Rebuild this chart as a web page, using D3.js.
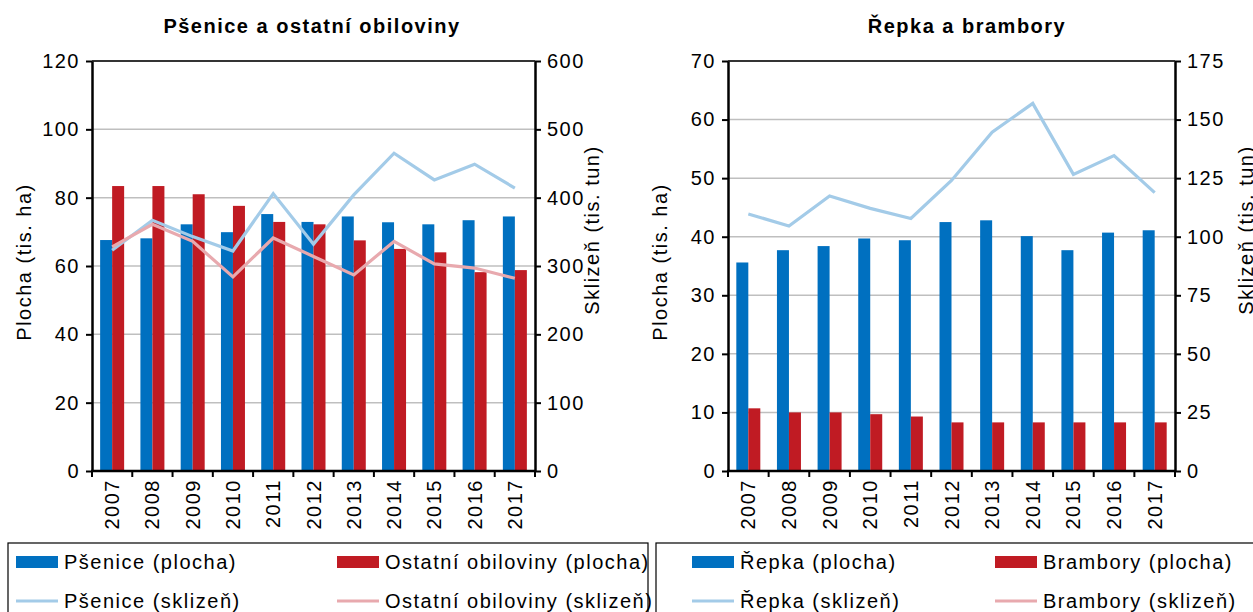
<!DOCTYPE html>
<html lang="cs">
<head>
  <meta charset="UTF-8">
  <title>Plochy a sklizně</title>
  <style>
    body { margin: 0; background: #fff; }
    text { font-family: "Liberation Sans", Arial, sans-serif; fill: #000; letter-spacing: 1.5px; }
    .grid line { stroke: #bfbfbf; stroke-width: 1.5px; }
    .axis path, .axis line { stroke: #000; }
  </style>
</head>
<body>
  <div id="chart"></div>
  <script src="https://cdn.jsdelivr.net/npm/d3@7"></script>
  <script>
    const years = ["2007","2008","2009","2010","2011","2012","2013","2014","2015","2016","2017"];

    // Pšenice a ostatní obiloviny
    const psenicePlocha = [67.6, 68.1, 72.2, 69.9, 75.2, 72.9, 74.5, 72.8, 72.2, 73.4, 74.5];
    const ostatniPlocha = [83.4, 83.4, 81.0, 77.6, 72.9, 72.2, 67.5, 65.0, 64.0, 58.2, 58.8];
    const pseniceSklizen = [323, 367, 343, 322, 406, 332, 404, 465, 426, 449, 414];
    const ostatniSklizen = [328, 361, 336, 284, 341, 314, 287, 336, 303, 297, 282];

    // Řepka a brambory
    const repkaPlocha = [35.6, 37.7, 38.4, 39.7, 39.4, 42.5, 42.8, 40.1, 37.7, 40.7, 41.1];
    const bramboryPlocha = [10.7, 10.0, 10.0, 9.7, 9.3, 8.3, 8.3, 8.3, 8.3, 8.3, 8.3];
    const repkaSklizen = [109.7, 104.6, 117.4, 112.1, 107.8, 124.0, 144.6, 156.9, 126.6, 134.6, 118.8];

    const leftTicks1 = [0, 20, 40, 60, 80, 100, 120];
    const rightTicks1 = [0, 100, 200, 300, 400, 500, 600];
    const leftTicks2 = [0, 10, 20, 30, 40, 50, 60, 70];
    const rightTicks2 = [0, 25, 50, 75, 100, 125, 150, 175];

    const cBlue = "#0070c0", cRed = "#c01b23", cLBlue = "#a3cbe8", cPink = "#e8a9ae";
    const fs = "20px";

    const svg = d3.select("#chart").append("svg")
      .attr("width", 1253)
      .attr("height", 612);

    function drawPanel(cfg) {
      const top = 61, bottom = 471;
      const x = d3.scaleBand().domain(years).range([cfg.x0, cfg.x1]);
      const yL = d3.scaleLinear().domain([0, d3.max(cfg.leftTicks)]).range([bottom, top]);
      const yR = d3.scaleLinear().domain([0, d3.max(cfg.rightTicks)]).range([bottom, top]);
      const g = svg.append("g");

      // gridlines
      g.append("g").attr("class", "grid")
        .selectAll("line")
        .data(cfg.leftTicks.filter(t => t > 0))
        .enter().append("line")
        .attr("x1", cfg.x0).attr("x2", cfg.x1)
        .attr("y1", d => yL(d)).attr("y2", d => yL(d));
      g.append("line")
        .attr("x1", cfg.x0).attr("x2", cfg.x1)
        .attr("y1", top).attr("y2", top)
        .attr("stroke", "#000").attr("stroke-width", 1.5);

      // bars
      const bw = 12;
      const series = [{ vals: cfg.bar1, color: cBlue, off: -bw }, { vals: cfg.bar2, color: cRed, off: 0 }];
      series.forEach(s => {
        g.selectAll(null)
          .data(s.vals)
          .enter().append("rect")
          .attr("x", (d, i) => x(years[i]) + x.bandwidth() / 2 + s.off)
          .attr("y", d => yL(d))
          .attr("width", bw)
          .attr("height", d => bottom - yL(d))
          .attr("fill", s.color);
      });

      // lines
      const line = d3.line()
        .x((d, i) => x(years[i]) + x.bandwidth() / 2)
        .y(d => yR(d));
      cfg.lines.forEach(l => {
        g.append("path")
          .datum(l.vals)
          .attr("d", line)
          .attr("fill", "none")
          .attr("stroke", l.color)
          .attr("stroke-width", 3.2);
      });

      // left axis
      const axL = g.append("g").attr("class", "axis")
        .attr("transform", `translate(${cfg.x0},0)`)
        .call(d3.axisLeft(yL).tickValues(cfg.leftTicks).tickSize(6).tickSizeOuter(0).tickPadding(6));
      axL.select(".domain").attr("stroke-width", 2.5);
      axL.selectAll(".tick line").attr("stroke-width", 2);
      axL.selectAll("text").style("font-size", fs);

      // right axis
      const axR = g.append("g").attr("class", "axis")
        .attr("transform", `translate(${cfg.x1},0)`)
        .call(d3.axisRight(yR).tickValues(cfg.rightTicks).tickSize(6).tickSizeOuter(0).tickPadding(6));
      axR.select(".domain").attr("stroke-width", 2.5);
      axR.selectAll(".tick line").attr("stroke-width", 2);
      axR.selectAll("text").style("font-size", fs);

      // bottom axis
      g.append("line")
        .attr("x1", cfg.x0 - 1).attr("x2", cfg.x1 + 1)
        .attr("y1", bottom).attr("y2", bottom)
        .attr("stroke", "#000").attr("stroke-width", 2.5);
      g.selectAll(null)
        .data(years.concat(["end"]))
        .enter().append("line")
        .attr("x1", (d, i) => cfg.x0 + i * x.step())
        .attr("x2", (d, i) => cfg.x0 + i * x.step())
        .attr("y1", bottom).attr("y2", bottom + 6)
        .attr("stroke", "#000").attr("stroke-width", 2);
      g.selectAll(null)
        .data(years)
        .enter().append("text")
        .attr("transform", d => `translate(${x(d) + x.bandwidth() / 2 + 7},${bottom + 8}) rotate(-90)`)
        .attr("text-anchor", "end")
        .style("font-size", fs)
        .text(d => d);

      // titles
      g.append("text")
        .attr("x", cfg.titleX).attr("y", 33)
        .attr("text-anchor", "middle")
        .style("font-size", fs).style("font-weight", "bold")
        .text(cfg.title);
      g.append("text")
        .attr("transform", `translate(${cfg.x0 - 61},262) rotate(-90)`)
        .attr("text-anchor", "middle")
        .style("font-size", fs)
        .text("Plocha (tis. ha)");
      g.append("text")
        .attr("transform", `translate(${cfg.x1 + cfg.sklOff},230) rotate(-90)`)
        .attr("text-anchor", "middle")
        .style("font-size", fs)
        .text("Sklizeň (tis. tun)");

      // legend
      const lg = g.append("g");
      lg.append("rect")
        .attr("x", cfg.legX).attr("y", 543)
        .attr("width", cfg.legW).attr("height", 80)
        .attr("fill", "none").attr("stroke", "#000").attr("stroke-width", 1.2);
      cfg.legend.forEach(it => {
        if (it.type === "bar") {
          lg.append("rect")
            .attr("x", it.x).attr("y", it.y - 6)
            .attr("width", 42).attr("height", 12)
            .attr("fill", it.color);
        } else {
          lg.append("line")
            .attr("x1", it.x).attr("x2", it.x + 42)
            .attr("y1", it.y).attr("y2", it.y)
            .attr("stroke", it.color).attr("stroke-width", 3);
        }
        lg.append("text")
          .attr("x", it.x + 48).attr("y", it.y + 7)
          .style("font-size", fs)
          .text(it.label);
      });
    }

    drawPanel({
      x0: 92, x1: 535, titleX: 312, sklOff: 64,
      title: "Pšenice a ostatní obiloviny",
      leftTicks: leftTicks1, rightTicks: rightTicks1,
      bar1: psenicePlocha, bar2: ostatniPlocha,
      lines: [{ vals: pseniceSklizen, color: cLBlue }, { vals: ostatniSklizen, color: cPink }],
      legX: 8, legW: 640,
      legend: [
        { type: "bar", color: cBlue, x: 16, y: 562, label: "Pšenice (plocha)" },
        { type: "bar", color: cRed, x: 337, y: 562, label: "Ostatní obiloviny (plocha)" },
        { type: "line", color: cLBlue, x: 16, y: 601, label: "Pšenice (sklizeň)" },
        { type: "line", color: cPink, x: 337, y: 601, label: "Ostatní obiloviny (sklizeň)" }
      ]
    });

    drawPanel({
      x0: 728, x1: 1175, titleX: 967, sklOff: 78,
      title: "Řepka a brambory",
      leftTicks: leftTicks2, rightTicks: rightTicks2,
      bar1: repkaPlocha, bar2: bramboryPlocha,
      lines: [{ vals: repkaSklizen, color: cLBlue }],
      legX: 656, legW: 620,
      legend: [
        { type: "bar", color: cBlue, x: 692, y: 562, label: "Řepka (plocha)" },
        { type: "bar", color: cRed, x: 995, y: 562, label: "Brambory (plocha)" },
        { type: "line", color: cLBlue, x: 692, y: 601, label: "Řepka (sklizeň)" },
        { type: "line", color: cPink, x: 995, y: 601, label: "Brambory (sklizeň)" }
      ]
    });
  </script>
</body>
</html>
